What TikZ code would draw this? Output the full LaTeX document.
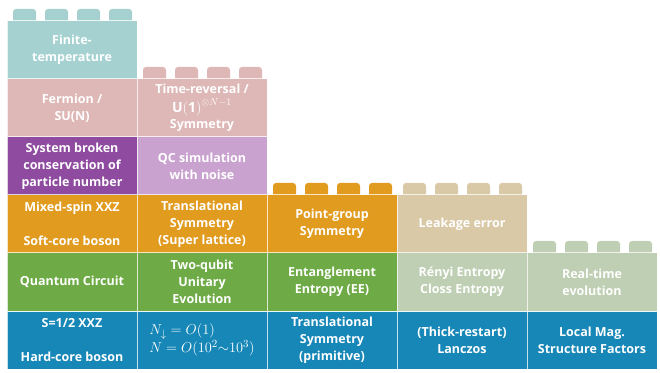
\documentclass[tikz,border=0pt]{standalone}
\usepackage{fontspec}
\setmainfont{Open Sans}
\usetikzlibrary{positioning,backgrounds}

\definecolor{tealT}{HTML}{A5D1D1}
\definecolor{pinkT}{HTML}{DEB8B6}
\definecolor{purpD}{HTML}{8E4B9F}
\definecolor{purpL}{HTML}{C9A2CF}
\definecolor{orng}{HTML}{E19B1F}
\definecolor{beige}{HTML}{D9C9A7}
\definecolor{grnD}{HTML}{6EAB46}
\definecolor{grnL}{HTML}{BFCFB3}
\definecolor{blueB}{HTML}{1787B7}

\tikzset{
  brick/.style={fill=#1, draw=white, draw opacity=.75, line width=1pt,
    minimum width=130pt, minimum height=58pt, inner sep=2pt, outer sep=0pt,
    text=white, align=center, font=\bfseries\fontsize{12.5}{17}\selectfont},
}
% four knobs on top of a brick
\newcommand{\studs}[2]{%
  \foreach \k in {0,...,3}
    \fill[#2, rounded corners=3pt] ([xshift={(6+32*\k)*1pt}, yshift=-5pt]#1.north west) rectangle ++(23,17);
}

\begin{document}
\begin{tikzpicture}[x=1pt,y=1pt, node distance=0pt]
  \useasboundingbox (0,0) rectangle (660,372);
  % column 1
  \node[brick=blueB, anchor=south west] (xxz) at (7,3) {S=1/2 XXZ\\[17pt]Hard-core boson};
  \node[brick=grnD, above=of xxz] (circuit) {Quantum Circuit};
  \node[brick=orng, above=of circuit] (mixed) {Mixed-spin XXZ\\[17pt]Soft-core boson};
  \node[brick=purpD, above=of mixed] (broken) {System broken\\conservation of\\particle number};
  \node[brick=pinkT, above=of broken] (fermion) {Fermion /\\SU(N)};
  \node[brick=tealT, above=of fermion] (finite) {Finite-\\temperature};
  % column 2
  \node[brick=blueB, right=of xxz, align=left, font=\fontsize{15}{18}\selectfont] (nsize)
    {$N_\downarrow = O(1)$\\$N = O(10^2{\sim}10^3)$};
  \node[brick=grnD, above=of nsize] (twoqubit) {Two-qubit\\Unitary\\Evolution};
  \node[brick=orng, above=of twoqubit] (superlat) {Translational\\Symmetry\\(Super lattice)};
  \node[brick=purpL, above=of superlat] (qcnoise) {QC simulation\\with noise};
  \node[brick=pinkT, above=of qcnoise, font=\bfseries\fontsize{12.5}{16}\selectfont] (timerev)
    {Time-reversal /\\[3pt]{\fontsize{14}{16}\selectfont$\mathbf{U(1)}^{\otimes N-1}$}\\Symmetry};
  % column 3
  \node[brick=blueB, right=of nsize] (translat) {Translational\\Symmetry\\(primitive)};
  \node[brick=grnD, above=of translat] (entangle) {Entanglement\\Entropy (EE)};
  \node[brick=orng, above=of entangle] (pointgroup) {Point-group\\Symmetry};
  % column 4
  \node[brick=blueB, right=of translat] (lanczos) {(Thick-restart)\\Lanczos};
  \node[brick=grnL, above=of lanczos] (renyi) {Rényi Entropy\\Closs Entropy};
  \node[brick=beige, above=of renyi] (leakage) {Leakage error};
  % column 5
  \node[brick=blueB, right=of lanczos] (localmag) {Local Mag.\\Structure Factors};
  \node[brick=grnL, above=of localmag] (realtime) {Real-time\\evolution};

  \begin{scope}[on background layer]
    \studs{finite}{tealT}
    \studs{timerev}{pinkT}
    \studs{pointgroup}{orng}
    \studs{leakage}{beige}
    \studs{realtime}{grnL}
  \end{scope}
\end{tikzpicture}
\end{document}
